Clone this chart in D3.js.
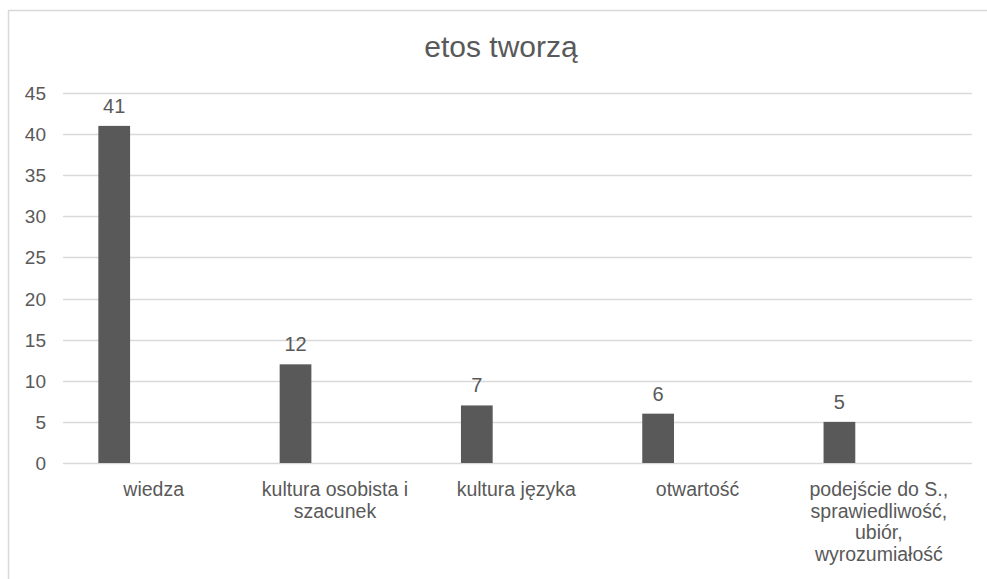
<html>
<head>
<meta charset="utf-8">
<style>
  body { margin: 0; background: #fff; }
  text { font-family: "Liberation Sans", Arial, sans-serif; fill: #595959; }
</style>
</head>
<body>
<svg id="chart" width="987" height="579"></svg>
<script src="https://cdn.jsdelivr.net/npm/d3@7"></script>
<script>
  // data
  const title = "etos tworzą"
  const categories = [
    ["wiedza"],
    ["kultura osobista i", "szacunek"],
    ["kultura języka"],
    ["otwartość"],
    ["podejście do S.,", "sprawiedliwość,", "ubiór,", "wyrozumiałość"]
  ]
  const values = [41, 12, 7, 6, 5]
  const yTicks = [0, 5, 10, 15, 20, 25, 30, 35, 40, 45]

  let svg = d3.select("#chart")

  // outer chart frame (runs off the right/bottom of the shot)
  svg.append("rect")
    .attr("x", 8.5).attr("y", 10.5)
    .attr("width", 1000).attr("height", 600)
    .attr("fill", "none")
    .attr("stroke", "#d9d9d9")
    .attr("stroke-width", 1.5)

  let plotLeft = 63, plotRight = 972, plotTop = 93, plotBottom = 463

  let x = d3.scaleBand()
    .domain(d3.range(categories.length))
    .range([plotLeft, 969.5])

  let y = d3.scaleLinear()
    .domain([0, 45])
    .range([plotBottom, plotTop])

  // grid lines
  svg.append("g").selectAll("line").data(yTicks)
    .enter().append("line")
    .attr("x1", plotLeft).attr("x2", plotRight)
    .attr("y1", d => Math.round(y(d)) + 0.5)
    .attr("y2", d => Math.round(y(d)) + 0.5)
    .attr("stroke", "#d9d9d9")
    .attr("stroke-width", 1.3)

  // y tick labels
  svg.append("g").selectAll("text").data(yTicks)
    .enter().append("text")
    .attr("x", 46)
    .attr("y", d => y(d) + 7)
    .attr("text-anchor", "end")
    .style("font-size", "19px")
    .text(d => d)

  // bars, sitting left of the band centre like in the original
  let off = x.bandwidth() * 0.195
  let bw = x.bandwidth() * 0.175
  svg.append("g").selectAll("rect").data(values)
    .enter().append("rect")
    .attr("x", (d, i) => x(i) + off)
    .attr("y", d => y(d))
    .attr("width", bw)
    .attr("height", d => plotBottom - y(d))
    .attr("fill", "#595959")

  // value labels
  svg.append("g").selectAll("text").data(values)
    .enter().append("text")
    .attr("x", (d, i) => x(i) + off + bw / 2)
    .attr("y", d => y(d) - 13)
    .attr("text-anchor", "middle")
    .style("font-size", "20px")
    .text(d => d)

  // category labels
  svg.append("g").selectAll("text").data(categories)
    .enter().append("text")
    .attr("text-anchor", "middle")
    .style("font-size", "19.5px")
    .each(function(lines, i) {
      let cx = x(i) + x.bandwidth() / 2
      d3.select(this).selectAll("tspan").data(lines)
        .enter().append("tspan")
        .attr("x", cx)
        .attr("y", (d, j) => 496 + j * 21.7)
        .text(d => d)
    })

  // title
  svg.append("text")
    .attr("x", 501)
    .attr("y", 57)
    .attr("text-anchor", "middle")
    .style("font-size", "30px")
    .text(title)
</script>
</body>
</html>
